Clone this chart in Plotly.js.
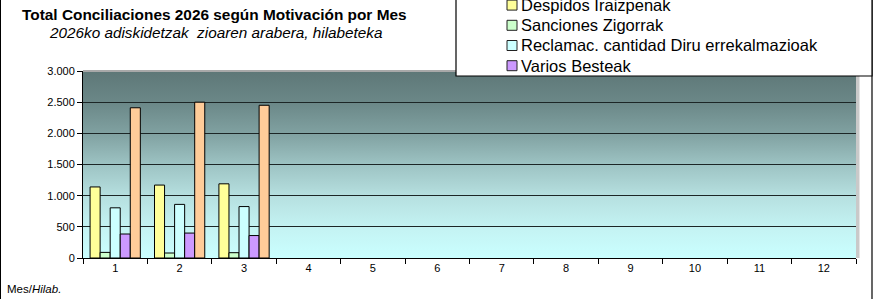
<!DOCTYPE html>
<html>
<head>
<meta charset="utf-8">
<script src="https://cdn.plot.ly/plotly-3.0.1.min.js"></script>
<style>html,body{margin:0;padding:0;background:#fff;}#chart{width:880px;height:299px;}</style>
</head>
<body>
<div id="chart"></div>
<script>
// ---- data ----
const months = ['1','2','3','4','5','6','7','8','9','10','11','12'];
const despidos  = [1140, 1170, 1190, null, null, null, null, null, null, null, null, null];
const sanciones = [90, 80, 85, null, null, null, null, null, null, null, null, null];
const reclamac  = [805, 860, 825, null, null, null, null, null, null, null, null, null];
const varios    = [385, 400, 360, null, null, null, null, null, null, null, null, null];
const total     = [2410, 2500, 2450, null, null, null, null, null, null, null, null, null];
const seriesNames = ['Despidos Iraizpenak', 'Sanciones Zigorrak', 'Reclamac. cantidad Diru errekalmazioak', 'Varios Besteak', 'Total Guztira'];
const yTickVals = [0, 500, 1000, 1500, 2000, 2500, 3000];
const titleText = 'Total Conciliaciones 2026 según Motivación por Mes';
const subtitleText = '2026ko adiskidetzak&nbsp; zioaren arabera, hilabeteka';
const xLabelText = 'Mes/<i>Hilab.</i>';

// ---- styling ----
const FONT = 'Liberation Sans, Arial, sans-serif';
const colors = ['#FFFF99', '#CCFFCC', '#CCFFFF', '#CC99FF', '#FFCC99'];
const seriesValues = [despidos, sanciones, reclamac, varios, total];

const W = 880, H = 299;
const M = {l: 83, r: 24, t: 71, b: 41};
const PW = W - M.l - M.r, PH = H - M.t - M.b;
const px2x = p => (p - M.l) / PW;
const py2y = p => (M.t + PH - p) / PH;

const traces = seriesValues.map((vals, i) => ({
  type: 'bar',
  name: seriesNames[i],
  x: months,
  y: vals,
  marker: {color: colors[i], line: {color: '#000000', width: 1}},
  showlegend: false,
  hoverinfo: 'x+y+name'
}));

// gradient background for plot area
const gradSvg = "<svg xmlns='http://www.w3.org/2000/svg' width='100' height='100' preserveAspectRatio='none'>" +
  "<defs><linearGradient id='g' x1='0' y1='0' x2='0' y2='1'>" +
  "<stop offset='0' stop-color='#5e7777'/>" +
  "<stop offset='0.17' stop-color='#6b8888'/>" +
  "<stop offset='0.34' stop-color='#81a2a2'/>" +
  "<stop offset='0.5' stop-color='#9dc3c3'/>" +
  "<stop offset='0.67' stop-color='#b6e0e0'/>" +
  "<stop offset='0.84' stop-color='#c4f3f3'/>" +
  "<stop offset='1' stop-color='#caffff'/>" +
  "</linearGradient></defs><rect x='0' y='0' width='100' height='100' fill='url(#g)'/></svg>";
const gradSrc = 'data:image/svg+xml;charset=utf-8,' + encodeURIComponent(gradSvg);

// manual legend (legend order: Total first, cut off at top)
const legendOrder = [4, 0, 1, 2, 3];
const legendCenters = [-15.1, 5.1, 25.3, 45.5, 65.7];
const legendShapes = [];
const legendAnns = [];
legendOrder.forEach((si, k) => {
  const cy = legendCenters[k];
  legendShapes.push({type: 'rect', xref: 'paper', yref: 'paper', layer: 'above',
    x0: px2x(507), x1: px2x(517), y0: py2y(cy + 5), y1: py2y(cy - 5),
    fillcolor: colors[si], line: {color: '#222222', width: 1}});
  legendAnns.push({xref: 'paper', yref: 'paper', x: px2x(519), y: py2y(cy),
    xanchor: 'left', yanchor: 'middle', showarrow: false, text: seriesNames[si],
    font: {family: FONT, size: 16.5, color: '#000000'}});
});

const shapes = [
  // top shadow line of plot area
  {type: 'line', xref: 'paper', yref: 'paper', layer: 'above', x0: 0, x1: px2x(859), y0: 1, y1: 1,
    line: {color: '#a9a9a9', width: 2}},
  // right shadow of plot area
  {type: 'rect', xref: 'paper', yref: 'paper', layer: 'above', x0: 1, x1: px2x(859.5), y0: 0, y1: py2y(70),
    fillcolor: '#c9c9c9', line: {width: 0}},
  // chart outer border (left and right)
  {type: 'line', xref: 'paper', yref: 'paper', layer: 'above', x0: px2x(0.5), x1: px2x(0.5), y0: -1, y1: 2,
    line: {color: '#000000', width: 1}},
  {type: 'line', xref: 'paper', yref: 'paper', layer: 'above', x0: px2x(872), x1: px2x(872), y0: -1, y1: 2,
    line: {color: '#000000', width: 1.2}},
  // legend box
  {type: 'rect', xref: 'paper', yref: 'paper', layer: 'above', x0: px2x(456), x1: px2x(872), y0: py2y(76), y1: py2y(-40),
    fillcolor: '#ffffff', line: {color: '#000000', width: 1.2}}
].concat(legendShapes);

const annotations = [
  {xref: 'paper', yref: 'paper', x: px2x(47), y: py2y(32), xanchor: 'left', yanchor: 'middle', showarrow: false,
    text: '<i>' + subtitleText + '</i>', font: {family: FONT, size: 15.3, color: '#000000'}},
  {xref: 'paper', yref: 'paper', x: px2x(5), y: py2y(289), xanchor: 'left', yanchor: 'middle', showarrow: false,
    text: xLabelText, font: {family: FONT, size: 11.5, color: '#000000'}}
].concat(legendAnns);

const layout = {
  width: W, height: H,
  margin: {l: M.l, r: M.r, t: M.t, b: M.b, pad: 0, autoexpand: false},
  paper_bgcolor: '#ffffff',
  plot_bgcolor: '#9dc3c3',
  separators: ',.',
  font: {family: FONT, color: '#000000', size: 11},
  title: {text: '<b>' + titleText + '</b>', xref: 'container', yref: 'container',
    x: 22 / W, xanchor: 'left', y: 1 - 15 / H, yanchor: 'middle',
    font: {family: FONT, size: 15.4, color: '#000000'}},
  barmode: 'group',
  bargap: 0.22,
  bargroupgap: 0,
  showlegend: false,
  xaxis: {type: 'category', categoryorder: 'array', categoryarray: months,
    tickson: 'boundaries', ticks: 'outside', ticklen: 5, tickcolor: '#000000', tickwidth: 1,
    showline: true, linecolor: '#000000', linewidth: 1, showgrid: false, zeroline: false,
    tickfont: {family: FONT, size: 11, color: '#000000'}, fixedrange: true},
  yaxis: {range: [0, 3000], tickmode: 'array', tickvals: yTickVals, tickformat: ',.0f',
    ticks: 'outside', ticklen: 5, tickcolor: '#000000', tickwidth: 1,
    showline: true, linecolor: '#000000', linewidth: 1,
    showgrid: true, gridcolor: '#1c2626', gridwidth: 1.2, zeroline: false,
    tickfont: {family: FONT, size: 11, color: '#000000'}, fixedrange: true},
  images: [{source: gradSrc, xref: 'paper', yref: 'paper', x: 0, y: 1, sizex: 1, sizey: 1,
    xanchor: 'left', yanchor: 'top', sizing: 'stretch', layer: 'below'}],
  shapes: shapes,
  annotations: annotations
};

Plotly.newPlot('chart', traces, layout, {displayModeBar: false, staticPlot: true});
</script>
</body>
</html>
